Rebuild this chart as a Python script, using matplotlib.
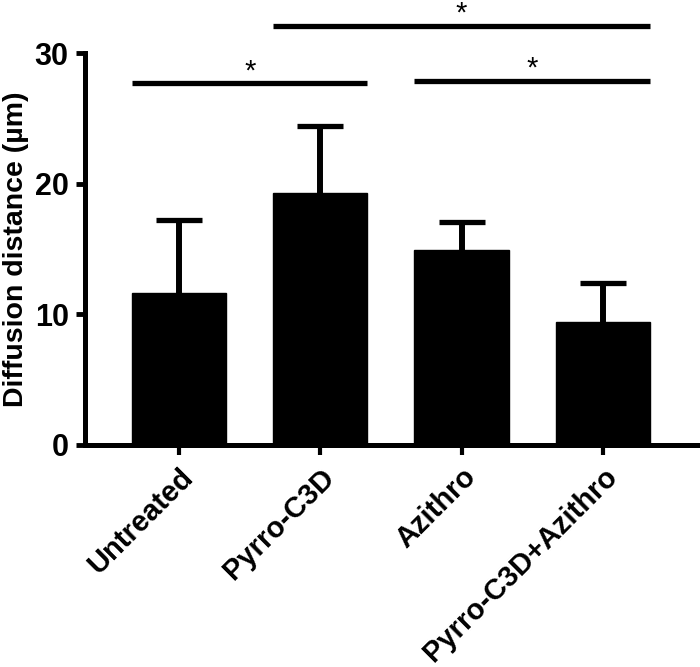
import numpy as np
import matplotlib
matplotlib.use("Agg")
import matplotlib.pyplot as plt

plt.rcParams['font.family'] = ['Liberation Sans', 'DejaVu Sans']
plt.rcParams['font.weight'] = 'bold'

# data
groups = ['Untreated', 'Pyrro-C3D', 'Azithro', 'Pyrro-C3D+Azithro']
means = [11.6, 19.3, 14.9, 9.4]
sd = [5.6, 5.1, 2.2, 3.0]

# significance comparisons: (group a, group b, bar height)
comparisons = [(0, 1, 27.7), (1, 3, 32.1), (2, 3, 27.9)]

bar_w = 0.667
x = np.arange(len(groups))

fig = plt.figure(figsize=(7, 6.67), dpi=100)
ax = fig.add_axes([0.121, 0.333, 0.879, 0.587])

ax.bar(x, means, width=bar_w, color='black', edgecolor='black', zorder=2)
eb = ax.errorbar(x, means, yerr=[np.zeros(len(sd)), sd], fmt='none', ecolor='black',
                 elinewidth=4.3, capsize=16.5, capthick=3.8, zorder=1)
# only the upper cap is shown (one-sided SD bars)
eb[1][0].set_visible(False)

for a, b, h in comparisons:
    ax.plot([a - bar_w / 2, b + bar_w / 2], [h, h], color='black', lw=3.8,
            solid_capstyle='butt', clip_on=False)
    ax.text((a + b) / 2, h + 0.3, '*', ha='center', va='baseline',
            fontsize=21, fontweight='normal', clip_on=False)

ax.set_xlim(-0.67, 3.69)
ax.set_ylim(0, 30)
ax.set_yticks([0, 10, 20, 30])
ax.set_xticks(x)
ax.set_xticklabels(groups, rotation=45, ha='right', va='top',
                   rotation_mode='anchor', fontsize=21)
ax.tick_params(axis='y', labelsize=22, width=3.5, length=6.5, pad=5)
ax.tick_params(axis='x', width=3, length=7, pad=6)
ax.set_ylabel('Diffusion distance (µm)', fontsize=20.5, fontweight='bold', labelpad=4)

for s in ['top', 'right']:
    ax.spines[s].set_visible(False)
for s in ['left', 'bottom']:
    ax.spines[s].set_linewidth(3.6)

fig.savefig('out.png', dpi=100)
